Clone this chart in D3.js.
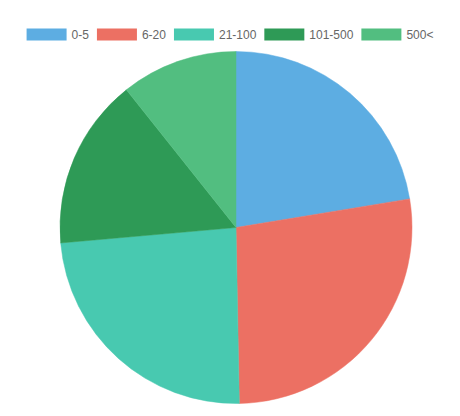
<!DOCTYPE html>
<html><head><meta charset="utf-8">
<script src="https://cdn.jsdelivr.net/npm/d3@7"></script>
<style>body{margin:0;background:#fff}svg{display:block}</style>
</head><body>
<script>
const categories = ["0-5", "6-20", "21-100", "101-500", "500<"];
const values = [22.4, 27.3, 23.9, 15.7, 10.7];
const colors = ["#5DADE2", "#EC7063", "#48C9B0", "#2E9A56", "#52BE80"];

const W = 460, H = 416;
const svg = d3.select("body").append("svg").attr("width", W).attr("height", H);

const cx = 236, cy = 227.5, r = 176;
const pie = d3.pie().sort(null).value(d => d)(values);
const arc = d3.arc().innerRadius(0).outerRadius(r);
svg.append("g").attr("transform", `translate(${cx},${cy})`)
  .selectAll("path").data(pie).join("path")
  .attr("d", arc).attr("fill", (d, i) => colors[i])
  .attr("stroke", (d, i) => colors[i]).attr("stroke-width", 0.5);

// legend
const lg = svg.append("g");
const fs = 12, bw = 40, gap = 5, pad = 8;
const items = lg.selectAll("g").data(categories).join("g");
items.append("rect").attr("width", bw).attr("height", fs)
  .attr("fill", (d, i) => colors[i]);
items.append("text").text(d => d)
  .attr("font-family", "Liberation Sans, Arial, Helvetica, sans-serif")
  .attr("font-size", fs).attr("fill", "#666")
  .attr("x", bw + gap).attr("y", fs / 2).attr("dy", "0.35em");
const widths = [];
items.each(function () { widths.push(bw + gap + d3.select(this).select("text").node().getComputedTextLength()); });
const total = d3.sum(widths) + pad * (widths.length - 1);
let x = (W - total) / 2;
items.each(function (d, i) {
  d3.select(this).attr("transform", `translate(${x},28.5)`);
  x += widths[i] + pad;
});
</script>
</body></html>
